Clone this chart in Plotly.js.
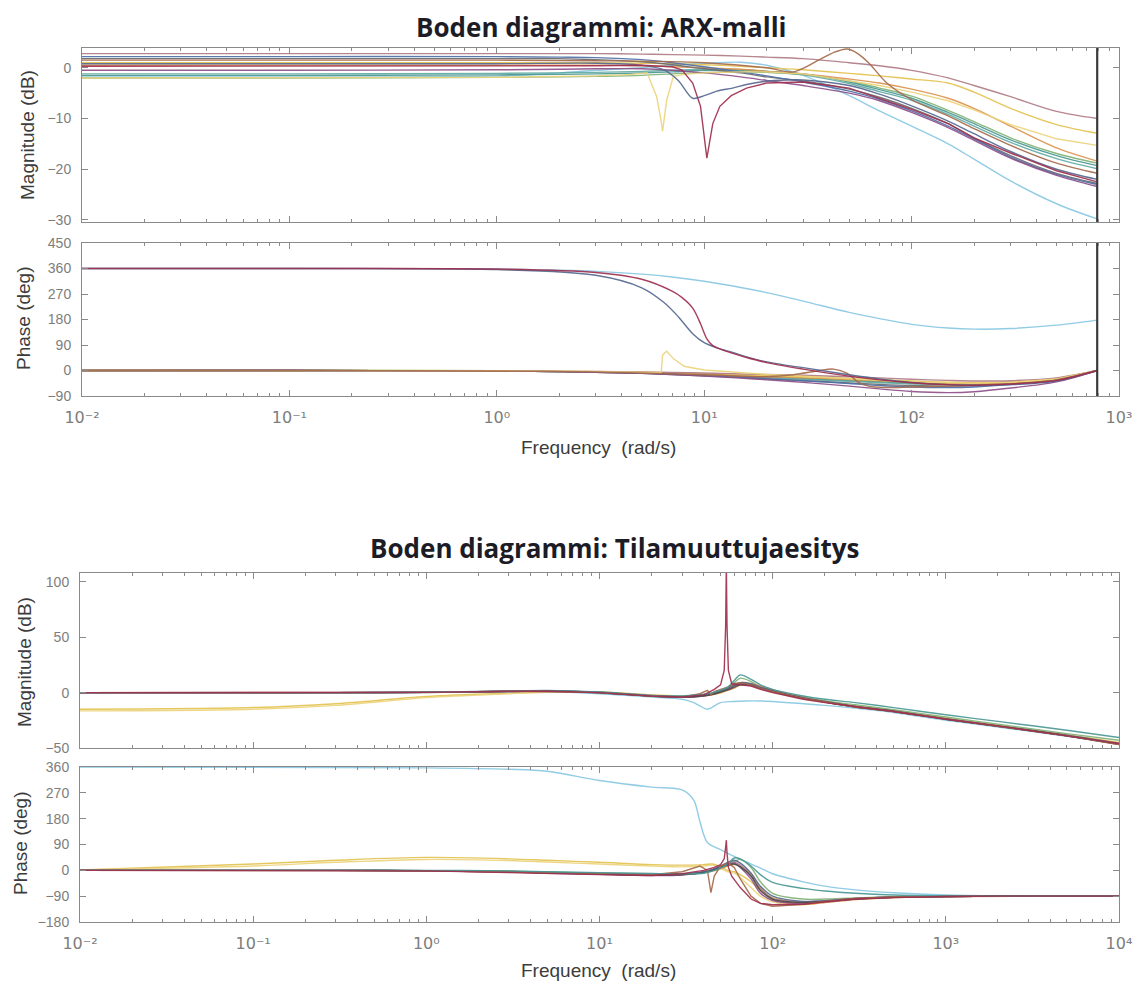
<!DOCTYPE html>
<html>
<head>
<meta charset="utf-8">
<script src="https://cdn.plot.ly/plotly-3.0.1.min.js"></script>
<style>html,body{margin:0;padding:0;background:#fff}#chart{width:1144px;height:985px}</style>
</head>
<body>
<div id="chart"></div>
<script>
// ---------------- Titles / labels ----------------
const titleArx = 'Boden diagrammi: ARX-malli';
const titleSs = 'Boden diagrammi: Tilamuuttujaesitys';
const magLabel = 'Magnitude (dB)';
const phaseLabel = 'Phase (deg)';
const freqLabel = 'Frequency  (rad/s)';

// ---------------- Tick values / labels ----------------
const arxDecades = [0.01, 0.1, 1, 10, 100, 1000];
const arxDecadeLabels = ['10\u207B\u00B2', '10\u207B\u00B9', '10\u2070', '10\u00B9', '10\u00B2', '10\u00B3'];
const ssDecades = [0.01, 0.1, 1, 10, 100, 1000, 10000];
const ssDecadeLabels = ['10\u207B\u00B2', '10\u207B\u00B9', '10\u2070', '10\u00B9', '10\u00B2', '10\u00B3', '10\u2074'];
const arxMagTicks = [-30, -20, -10, 0];
const arxPhaseTicks = [-90, 0, 90, 180, 270, 360, 450];
const ssMagTicks = [-50, 0, 50, 100];
const ssPhaseTicks = [-180, -90, 0, 90, 180, 270, 360];
const arxMagRange = [-30.4, 3.9];
const arxPhaseRange = [-90, 450];
const ssMagRange = [-50, 108];
const ssPhaseRange = [-180, 360];
const nyquistFreq = 785;

// ---------------- ARX model (top) ----------------
const wArx = [0.01, 0.1, 1, 2, 3, 5, 7, 10, 15, 20, 30, 50, 70, 100, 150, 200, 300, 500, 785];
const arxMagMauve  = [2.8, 2.8, 2.8, 2.8, 2.8, 2.7, 2.6, 2.5, 2.3, 2.1, 1.8, 1.0, 0.4, -0.5, -2.0, -3.5, -5.7, -8.6, -10.0];
const arxPhMauve   = [0, 0, -1, -2, -3, -5, -7, -9, -12, -14, -17, -22, -26, -31, -35, -37, -36, -26, 0];
const arxMagYellow = [1.0, 1.0, 1.0, 1.0, 1.0, 0.9, 0.8, 0.6, 0.3, 0.0, -0.4, -1.1, -1.6, -2.2, -3.0, -4.8, -8.0, -11.2, -12.9];
const arxPhYellow  = [0, 0, -1, -3, -4, -6, -8, -11, -15, -18, -22, -28, -32, -37, -41, -42, -40, -28, 0];
const arxMagOrange = [0.5, 0.5, 0.5, 0.5, 0.5, 0.4, 0.2, 0.0, -0.3, -0.7, -1.2, -2.2, -3.0, -4.2, -6.0, -8.0, -11.5, -15.8, -18.4];
const arxPhOrange  = [0, 0, -2, -4, -6, -9, -12, -15, -19, -22, -26, -32, -36, -41, -45, -46, -43, -30, 0];
const arxMagTeal   = [-1.5, -1.5, -1.4, -1.3, -1.2, -1.0, -0.8, -0.5, -0.5, -0.7, -1.2, -2.8, -4.3, -6.0, -8.8, -11.0, -14.2, -17.3, -19.3];
const arxPhTeal    = [0, 0, -2, -4, -5, -8, -11, -15, -20, -24, -29, -36, -40, -45, -48, -48, -45, -31, 0];
const arxMagTeal2  = [-1.2, -1.2, -1.1, -1.0, -0.9, -0.7, -0.5, -0.3, -0.4, -0.7, -1.4, -3.1, -4.7, -6.4, -9.2, -11.5, -14.7, -17.9, -19.9];
const arxPhTeal2   = [0, 0, -2, -4, -6, -9, -12, -16, -21, -25, -31, -38, -43, -47, -50, -50, -46, -32, 0];
const arxMagGreen  = [-2.0, -2.0, -1.9, -1.8, -1.7, -1.5, -1.2, -0.9, -0.8, -0.9, -1.3, -2.6, -4.0, -5.6, -8.4, -10.6, -13.8, -16.9, -18.8];
const arxPhGreen   = [0, 0, -1, -3, -5, -7, -10, -14, -19, -23, -28, -34, -39, -44, -47, -47, -44, -30, 0];
const arxMagPurple = [-0.5, -0.5, -0.4, -0.3, -0.2, -0.2, -0.5, -1.0, -1.8, -2.5, -3.5, -5.0, -6.5, -8.8, -11.8, -14.3, -17.8, -21.2, -23.4];
const arxPhPurple  = [0, 0, -2, -4, -6, -10, -14, -20, -27, -33, -42, -55, -65, -74, -78, -75, -62, -40, 0];
const arxMagGray   = [1.8, 1.8, 1.8, 1.8, 1.6, 1.2, 0.6, -0.2, -1.0, -1.8, -2.6, -4.2, -5.8, -8.0, -11.0, -13.8, -17.3, -20.8, -22.8];
const arxPhGray    = [0, 0, -2, -4, -6, -10, -14, -19, -25, -30, -36, -44, -49, -53, -55, -54, -48, -33, 0];
const arxMagBlue   = [2.2, 2.2, 2.2, 2.1, 2.0, 1.6, 1.0, 0.2, -0.8, -1.6, -2.8, -4.6, -6.2, -8.5, -11.5, -14.0, -17.6, -21.0, -23.0];
const arxPhBlue    = [0, 0, -2, -4, -6, -9, -13, -18, -24, -29, -36, -46, -53, -58, -60, -58, -50, -34, 0];
const arxMagCyan   = [-1.8, -1.8, -1.6, -1.0, -0.5, 0.0, 0.5, 0.9, 1.1, 0.5, -1.5, -5.5, -8.5, -11.5, -15.0, -18.0, -22.3, -26.8, -29.8];
const arxPhCyan    = [360, 360, 358, 354, 350, 340, 330, 315, 293, 275, 245, 205, 183, 163, 150, 146, 148, 160, 178];

const wArxRed = [0.01, 0.1, 1, 3, 5, 7, 7.8, 8.8, 9.6, 10.3, 11.0, 11.9, 13.5, 16, 20, 30, 50, 70, 100, 150, 200, 300, 500, 785];
const arxMagRed = [0.3, 0.3, 0.3, 0.4, 0.5, 0.2, -0.4, -3.0, -7.6, -17.8, -11.0, -7.6, -5.5, -4.0, -3.0, -2.8, -4.0, -6.0, -8.2, -11.0, -13.8, -16.8, -20.3, -22.5];
const arxPhRed  = [360, 360, 358, 346, 322, 280, 258, 220, 165, 112, 88, 76, 62, 46, 28, 5, -20, -33, -43, -50, -52, -48, -35, 0];

const wArxSlate = [0.01, 0.1, 1, 3, 5, 6.4, 7.5, 8.8, 10, 11.5, 13.7, 16, 19.5, 25, 30, 50, 70, 100, 150, 200, 300, 500, 785];
const arxMagSlate = [0.8, 0.8, 0.8, 0.9, 0.5, -0.4, -2.5, -6.0, -5.5, -4.6, -4.0, -3.3, -2.7, -2.4, -2.4, -3.5, -5.2, -7.5, -10.5, -13.0, -16.5, -20.0, -22.0];
const arxPhSlate  = [360, 360, 356, 336, 292, 240, 190, 130, 98, 80, 64, 48, 32, 18, 10, -15, -30, -42, -50, -53, -50, -37, 0];

const wArxNotch = [0.01, 0.1, 1, 3, 4.5, 5.3, 5.9, 6.2, 6.3, 6.6, 7.1, 8, 10, 15, 20, 30, 50, 70, 100, 150, 200, 300, 500, 785];
const arxMagNotch = [-2.0, -2.0, -1.9, -1.6, -1.3, -1.0, -5.7, -10.5, -12.5, -6.3, -1.7, -1.3, -1.0, -0.8, -0.8, -1.2, -2.5, -3.5, -4.8, -6.5, -8.3, -11.2, -14.0, -15.3];
const arxPhNotch  = [0, 0, -1, -3, -5, -6, -7, -8, 55, 68, 42, 15, 2, -8, -14, -20, -30, -35, -40, -44, -45, -42, -30, 0];

const wArxBrown = [0.01, 0.1, 1, 3, 10, 20, 27, 36, 42, 49, 55, 62, 76, 100, 150, 200, 300, 500, 785];
const arxMagBrown = [1.5, 1.5, 1.5, 1.4, 1.0, 0.0, -0.8, 1.6, 3.0, 3.7, 2.8, 1.0, -3.0, -6.3, -9.5, -12.0, -15.3, -18.8, -20.8];
const arxPhBrown  = [0, 0, -2, -5, -15, -22, -15, 0, 5, -10, -40, -55, -60, -58, -55, -52, -47, -33, 0];

// ---------------- State-space model (bottom) ----------------
const wSs = [0.01, 0.1, 0.3, 1, 3, 5, 10, 20, 30, 40, 45, 50, 55, 60, 65, 75, 85, 100, 150, 200, 300, 500, 1000, 2000, 5000, 10000];
const ssMagTeal    = [0, 0, 0, 0.3, 1.5, 2, 0.5, -2.5, -3, -1.5, 0, 2, 5, 11, 16, 12, 7, 3, -3, -6, -9, -13.5, -20, -26, -34, -40.5];
const ssPhTeal     = [0, 0, 0, 0, -2, -5, -8, -11, -12, -10, -2, 8, 22, 43, 40, 15, -15, -42, -63, -72, -80, -86, -89, -90, -90, -90];
const ssMagGreen   = [0, 0, 0, 0.3, 1.3, 1.8, 0.3, -2.8, -3.5, -2, -0.5, 1.5, 4, 9, 13, 10, 5, 1.5, -4.5, -7.5, -11, -15.5, -22, -28.5, -37, -43];
const ssPhGreen    = [0, 0, 0, -1, -3, -6, -10, -14, -15, -8, 0, 10, 25, 30, 38, 10, -40, -80, -100, -100, -96, -93, -91, -90, -90, -90];
const ssMagYellow  = [-15, -13.5, -10, -3.5, -0.5, 0.5, 0.5, -2, -3, -2, -1, 0, 3, 7, 9, 8, 5, 1.5, -4.5, -7.5, -12, -16, -23, -29.5, -38, -45];
const ssPhYellow   = [1, 22, 35, 45, 40, 35, 28, 20, 18, 20, 22, 12, 0, -5, -15, -40, -70, -95, -112, -108, -100, -94, -91, -90, -90, -90];
const ssMagYellow2 = [-16.5, -15, -11.5, -4.5, -1, 0.3, 0.3, -2.2, -3.2, -2.5, -1.5, -0.5, 2, 5, 7, 6.5, 4, 0.5, -5.5, -8.5, -13, -17, -24, -30.5, -39, -46];
const ssPhYellow2  = [1, 15, 28, 38, 34, 29, 22, 15, 12, 15, 18, 8, -5, -10, -25, -60, -90, -110, -120, -112, -102, -95, -91, -90, -90, -90];
const ssMagOrange  = [0, 0, 0, 0.2, 1.2, 1.6, 0.2, -3, -4, -3, -2, 0, 2, 4, 7, 8, 6, 2.5, -4, -8, -12.5, -16.5, -23.5, -30, -38.5, -45.5];
const ssPhOrange   = [0, 0, 0, -2, -5, -8, -12, -15, -14, -8, -3, 5, 15, 20, 15, -10, -60, -100, -118, -112, -102, -95, -91, -90, -90, -90];
const ssMagPurple  = [0, 0, 0, 0.2, 1.0, 1.4, 0, -3.2, -4.2, -3, -1.5, 1, 3, 6, 8, 7, 4.5, 1, -5, -8.5, -13, -17, -24, -30.5, -39, -46.5];
const ssPhPurple   = [0, 0, 0, -2, -6, -10, -14, -18, -16, -6, 2, 12, 20, 25, 10, -30, -80, -105, -115, -110, -100, -94, -91, -90, -90, -90];
const ssMagSlate   = [0, 0, 0, 0.2, 1.1, 1.5, 0.2, -3, -4, -2.5, -1, 1.5, 4, 7, 9, 8, 5, 2, -4.5, -8, -12.5, -16.5, -23.5, -30, -38.5, -46];
const ssPhSlate    = [0, 0, 0, -1, -4, -7, -11, -14, -13, -5, 3, 15, 28, 35, 25, -10, -55, -90, -108, -106, -98, -93, -91, -90, -90, -90];
const ssMagGray    = [0, 0, 0, 0.1, 1, 1.3, -0.2, -3.3, -4, -2.8, -1.5, 0.5, 2.5, 5, 7, 6.5, 4, 1, -5, -8.5, -13, -17, -24, -30.5, -39, -47];
const ssPhGray     = [0, 0, 0, -2, -5, -9, -13, -16, -15, -8, 0, 10, 18, 22, 12, -20, -70, -100, -112, -108, -100, -94, -91, -90, -90, -90];
const ssMagMauve   = [0, 0, 0, 0.2, 1.2, 1.6, 0.3, -2.6, -3.6, -2.2, -0.8, 1.5, 4, 6.5, 8.5, 7.5, 4.8, 1.5, -4.6, -8, -12.5, -16.8, -23.8, -30.3, -38.8, -46.5];
const ssPhMauve    = [0, 0, 0, -1, -4, -8, -12, -16, -14, -6, 2, 14, 24, 28, 18, -20, -65, -98, -110, -106, -98, -93, -91, -90, -90, -90];

const wSsRed = [0.01, 0.1, 0.3, 1, 3, 5, 10, 20, 30, 40, 46, 50, 52.5, 53.5, 54, 54.5, 55.5, 58, 65, 75, 85, 100, 150, 200, 300, 500, 1000, 2000, 5000, 10000];
const ssMagRed = [0, 0, 0, 0.2, 1.2, 1.5, 0, -3, -4, -2, 3, 7, 20, 60, 115, 60, 20, 8, 7, 6, 3, 0, -6, -9, -12.5, -17, -24, -30, -39, -46];
const ssPhRed  = [0, 0, 0, -2, -8, -12, -15, -18, -12, 0, 10, 20, 40, 80, 105, 60, 10, -20, -60, -100, -115, -120, -118, -110, -100, -95, -91, -90, -90, -90];

const wSsCyan = [0.01, 0.1, 1, 3, 5, 10, 20, 30, 35, 38, 42, 50, 59, 70, 85, 100, 150, 200, 300, 500, 1000, 2000, 5000, 10000];
const ssMagCyan = [0, 0, 0.2, 1, 1, -1, -4, -6, -9, -12, -15, -9, -8, -7.5, -7.5, -8, -10, -11.5, -14, -18, -25, -31, -39.5, -46];
const ssPhCyan  = [360, 359, 357, 352, 345, 313, 290, 280, 245, 170, 97, 72, 50, 30, 8, -12, -40, -55, -68, -78, -86, -89, -90, -90];

const wSsBrown = [0.01, 0.1, 1, 3, 10, 20, 30, 38, 42, 44, 46, 50, 55, 60, 65, 75, 85, 100, 150, 200, 300, 500, 1000, 2000, 5000, 10000];
const ssMagBrown = [0, 0, 0.2, 1.2, 0, -3, -4, -1, 2, -2, 1, 3, 5, 8, 9, 7, 4, 1, -5, -8.5, -13, -17, -24, -30.5, -39, -47];
const ssPhBrown  = [0, 0, -2, -6, -12, -15, -5, 15, 0, -78, -20, 15, 25, 10, -30, -90, -115, -125, -118, -108, -98, -93, -91, -90, -90, -90];

// ---------------- Colours ----------------
const C = {
  mauve: '#B07C86', yellow: '#E3C250', yellow2: '#EBD47C', orange: '#DB9450', teal: '#4A9894',
  teal2: '#62AAA3', green: '#80B275', purple: '#8C4F88', gray: '#6A6A6A', blue: '#4F6FA8',
  cyan: '#88C8E2', red: '#A02F4E', slate: '#56688F', brown: '#A5694A', dark: '#4A4A4A'
};

const traces = [];
function addPair(w, mag, ph, color, xm, ym, xp, yp, magShape, phShape) {
  const mk = s => ({color: color, width: 1.4, shape: s || 'spline', smoothing: 0.9});
  traces.push({x: w, y: mag, xaxis: xm, yaxis: ym, mode: 'lines', line: mk(magShape), opacity: 0.92, hoverinfo: 'skip'});
  traces.push({x: w, y: ph, xaxis: xp, yaxis: yp, mode: 'lines', line: mk(phShape), opacity: 0.92, hoverinfo: 'skip'});
}

// ARX
addPair(wArx, arxMagCyan, arxPhCyan, C.cyan, 'x', 'y', 'x2', 'y2');
addPair(wArx, arxMagGreen, arxPhGreen, C.green, 'x', 'y', 'x2', 'y2');
addPair(wArx, arxMagTeal, arxPhTeal, C.teal, 'x', 'y', 'x2', 'y2');
addPair(wArx, arxMagTeal2, arxPhTeal2, C.teal2, 'x', 'y', 'x2', 'y2');
addPair(wArx, arxMagOrange, arxPhOrange, C.orange, 'x', 'y', 'x2', 'y2');
addPair(wArx, arxMagYellow, arxPhYellow, C.yellow, 'x', 'y', 'x2', 'y2');
addPair(wArx, arxMagMauve, arxPhMauve, C.mauve, 'x', 'y', 'x2', 'y2');
addPair(wArx, arxMagGray, arxPhGray, C.gray, 'x', 'y', 'x2', 'y2');
addPair(wArx, arxMagBlue, arxPhBlue, C.blue, 'x', 'y', 'x2', 'y2');
addPair(wArx, arxMagPurple, arxPhPurple, C.purple, 'x', 'y', 'x2', 'y2');
addPair(wArxNotch, arxMagNotch, arxPhNotch, C.yellow2, 'x', 'y', 'x2', 'y2', 'linear', 'linear');
addPair(wArxBrown, arxMagBrown, arxPhBrown, C.brown, 'x', 'y', 'x2', 'y2');
addPair(wArxSlate, arxMagSlate, arxPhSlate, C.slate, 'x', 'y', 'x2', 'y2');
addPair(wArxRed, arxMagRed, arxPhRed, C.red, 'x', 'y', 'x2', 'y2', 'linear', 'spline');

// Nyquist marker lines (top)
traces.push({x: [nyquistFreq, nyquistFreq], y: arxMagRange, xaxis: 'x', yaxis: 'y', mode: 'lines', line: {color: '#3a3a3a', width: 2.2}, hoverinfo: 'skip'});
traces.push({x: [nyquistFreq, nyquistFreq], y: arxPhaseRange, xaxis: 'x2', yaxis: 'y2', mode: 'lines', line: {color: '#3a3a3a', width: 2.2}, hoverinfo: 'skip'});

// State space
addPair(wSs, ssMagYellow, ssPhYellow, C.yellow, 'x3', 'y3', 'x4', 'y4');
addPair(wSs, ssMagYellow2, ssPhYellow2, C.yellow2, 'x3', 'y3', 'x4', 'y4');
addPair(wSsCyan, ssMagCyan, ssPhCyan, C.cyan, 'x3', 'y3', 'x4', 'y4');
addPair(wSs, ssMagGreen, ssPhGreen, C.green, 'x3', 'y3', 'x4', 'y4');
addPair(wSs, ssMagOrange, ssPhOrange, C.orange, 'x3', 'y3', 'x4', 'y4');
addPair(wSs, ssMagMauve, ssPhMauve, C.mauve, 'x3', 'y3', 'x4', 'y4');
addPair(wSs, ssMagPurple, ssPhPurple, C.purple, 'x3', 'y3', 'x4', 'y4');
addPair(wSs, ssMagSlate, ssPhSlate, C.slate, 'x3', 'y3', 'x4', 'y4');
addPair(wSs, ssMagGray, ssPhGray, C.dark, 'x3', 'y3', 'x4', 'y4');
addPair(wSsBrown, ssMagBrown, ssPhBrown, C.brown, 'x3', 'y3', 'x4', 'y4', 'linear', 'linear');
addPair(wSs, ssMagTeal, ssPhTeal, C.teal, 'x3', 'y3', 'x4', 'y4');
addPair(wSsRed, ssMagRed, ssPhRed, C.red, 'x3', 'y3', 'x4', 'y4', 'linear', 'linear');

// ---------------- Layout ----------------
function minorTicks(decs) {
  const out = [];
  for (let i = 0; i < decs.length - 1; i++) for (let k = 2; k <= 9; k++) out.push(decs[i] * k);
  return out;
}
const axisColor = '#8a8a8a';
const tickFont = {family: 'Liberation Sans, Arial, sans-serif', size: 14, color: '#7d7d7d'};
const xTickFont = {family: 'DejaVu Sans, Liberation Sans, sans-serif', size: 16, color: '#7d7d7d'};
function xAx(domain, decs, labels, anchor, showLabels) {
  const ax = {
    type: 'log', domain: domain, range: [Math.log10(decs[0]), Math.log10(decs[decs.length - 1])], anchor: anchor,
    showline: true, linecolor: axisColor, linewidth: 1, mirror: 'ticks', ticks: 'inside', ticklen: 6,
    tickcolor: axisColor, tickmode: 'array', tickvals: decs, showticklabels: showLabels,
    showgrid: false, zeroline: false, tickfont: xTickFont, ticklabelstandoff: 7,
    minor: {ticks: 'inside', ticklen: 3, tickcolor: axisColor, tickmode: 'array', tickvals: minorTicks(decs), showgrid: false}
  };
  if (showLabels) ax.ticktext = labels;
  return ax;
}
function yAx(domain, range, ticks, anchor) {
  return {
    domain: domain, range: range, anchor: anchor, showline: true, linecolor: axisColor, linewidth: 1,
    mirror: 'ticks', ticks: 'inside', ticklen: 6, tickcolor: axisColor, tickmode: 'array', tickvals: ticks,
    showgrid: false, zeroline: false, tickfont: tickFont, ticklabelstandoff: 7
  };
}
const W = 1144, H = 985;
const px = v => v / W, py = v => 1 - v / H;
const xTopDom = [px(82), px(1119)], xBotDom = [px(80), px(1119)];

const axisTitleFont = {family: 'Liberation Sans, Arial, sans-serif', size: 19, color: '#3c3c3c'};
const headFont = {family: 'Open Sans, Noto Sans, sans-serif', size: 26, color: '#1c1c26', weight: 'bold'};

const layout = {
  width: W, height: H, margin: {l: 0, r: 0, t: 0, b: 0}, showlegend: false,
  paper_bgcolor: '#ffffff', plot_bgcolor: '#ffffff',
  xaxis:  xAx(xTopDom, arxDecades, arxDecadeLabels, 'y', false),
  yaxis:  yAx([py(222), py(48)], arxMagRange, arxMagTicks, 'x'),
  xaxis2: xAx(xTopDom, arxDecades, arxDecadeLabels, 'y2', true),
  yaxis2: yAx([py(396), py(243)], arxPhaseRange, arxPhaseTicks, 'x2'),
  xaxis3: xAx(xBotDom, ssDecades, ssDecadeLabels, 'y3', false),
  yaxis3: yAx([py(748), py(573)], ssMagRange, ssMagTicks, 'x3'),
  xaxis4: xAx(xBotDom, ssDecades, ssDecadeLabels, 'y4', true),
  yaxis4: yAx([py(922), py(767)], ssPhaseRange, ssPhaseTicks, 'x4'),
  annotations: [
    {text: titleArx, x: px(601), y: py(27), xref: 'paper', yref: 'paper', showarrow: false, xanchor: 'center', yanchor: 'middle', font: headFont},
    {text: titleSs, x: px(615), y: py(548), xref: 'paper', yref: 'paper', showarrow: false, xanchor: 'center', yanchor: 'middle', font: headFont},
    {text: magLabel, x: px(28), y: py(135), xref: 'paper', yref: 'paper', showarrow: false, textangle: -90, xanchor: 'center', yanchor: 'middle', font: axisTitleFont},
    {text: phaseLabel, x: px(24), y: py(318), xref: 'paper', yref: 'paper', showarrow: false, textangle: -90, xanchor: 'center', yanchor: 'middle', font: axisTitleFont},
    {text: freqLabel, x: px(598), y: py(447), xref: 'paper', yref: 'paper', showarrow: false, xanchor: 'center', yanchor: 'middle', font: axisTitleFont},
    {text: magLabel, x: px(24), y: py(662), xref: 'paper', yref: 'paper', showarrow: false, textangle: -90, xanchor: 'center', yanchor: 'middle', font: axisTitleFont},
    {text: phaseLabel, x: px(20), y: py(843), xref: 'paper', yref: 'paper', showarrow: false, textangle: -90, xanchor: 'center', yanchor: 'middle', font: axisTitleFont},
    {text: freqLabel, x: px(598), y: py(970), xref: 'paper', yref: 'paper', showarrow: false, xanchor: 'center', yanchor: 'middle', font: axisTitleFont}
  ]
};

Plotly.newPlot('chart', traces, layout, {staticPlot: true, displayModeBar: false});
</script>
</body>
</html>
